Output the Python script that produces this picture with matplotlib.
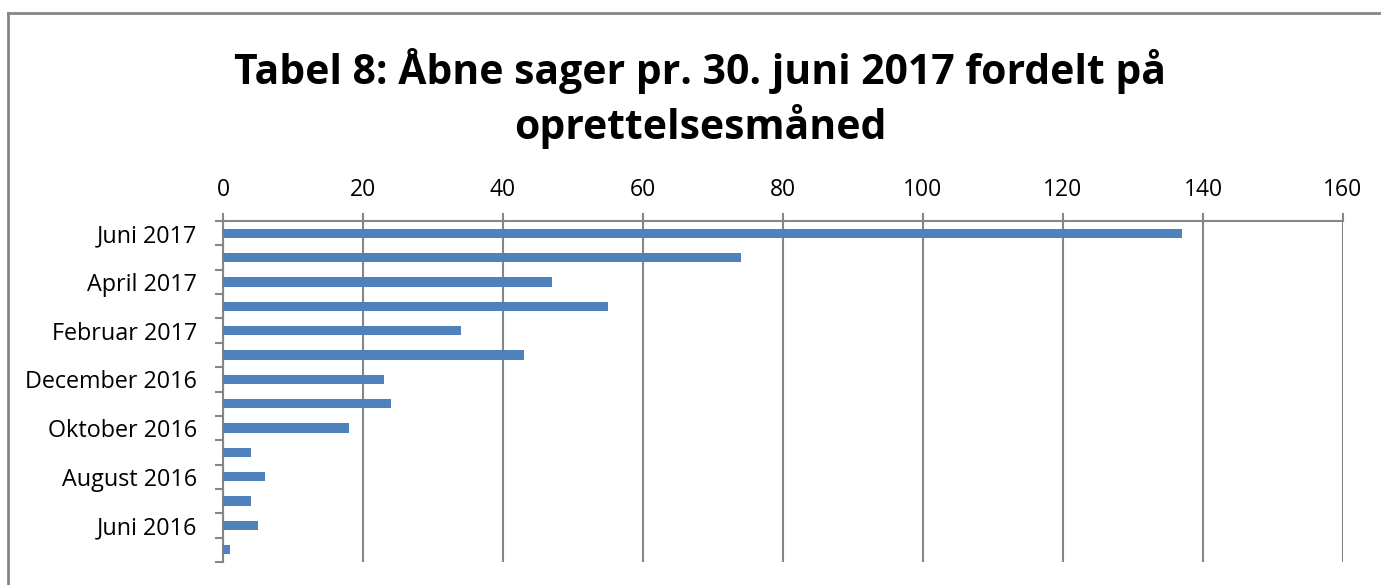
import numpy as np
import matplotlib.pyplot as plt
from matplotlib.lines import Line2D

# data, top to bottom
months = ["Juni 2017", "Maj 2017", "April 2017", "Marts 2017", "Februar 2017",
          "Januar 2017", "December 2016", "November 2016", "Oktober 2016",
          "September 2016", "August 2016", "Juli 2016", "Juni 2016", "Maj 2016"]
counts = [137, 74, 47, 55, 34, 43, 23, 24, 18, 4, 6, 4, 5, 1]
xticks = [0, 20, 40, 60, 80, 100, 120, 140, 160]

plt.rcParams['font.family'] = ['Open Sans', 'DejaVu Sans']
grey = "#868686"

fig = plt.figure(figsize=(13.81, 5.85), dpi=100)
ax = fig.add_axes([223/1381, 1 - 562/585, 1120/1381, 341/585])

n = len(months)
pos = np.arange(n)
ax.barh(pos, counts, height=0.38, color="#4F81BD", zorder=3)
ax.set_ylim(n - 0.5, -0.5)
ax.set_xlim(0, 160)

# x axis on top
ax.xaxis.tick_top()
ax.set_xticks(xticks)
ax.tick_params(axis='x', which='major', length=5.8, color=grey, width=1.5,
               labelsize=16.5, pad=8)
ax.grid(axis='x', color=grey, linewidth=1.5, zorder=1)

# y ticks: marks at boundaries, labels on every other category
ax.set_yticks(np.arange(n + 1) - 0.5)
ax.set_yticklabels([])
ax.tick_params(axis='y', which='major', length=5.8, color=grey, width=1.5)
ax.set_yticks(pos[::2], minor=True)
ax.set_yticklabels(months[::2], minor=True)
ax.tick_params(axis='y', which='minor', length=0, labelsize=16.8, pad=18.5)

for s in ['right', 'bottom']:
    ax.spines[s].set_visible(False)
for s in ['left', 'top']:
    ax.spines[s].set_color(grey)
    ax.spines[s].set_linewidth(1.5)

fig.text(0.507, 0.745, "Tabel 8: Åbne sager pr. 30. juni 2017 fordelt på\noprettelsesmåned",
         ha='center', va='bottom', fontsize=29.4, fontweight='bold', linespacing=1.3)

# outer chart frame (only top and left edges are in view)
fig.add_artist(Line2D([8/1381, 8/1381], [0, 1 - 13/585], color=grey, linewidth=2))
fig.add_artist(Line2D([8/1381, 1], [1 - 13/585, 1 - 13/585], color=grey, linewidth=2))

fig.savefig("out.png", dpi=100)
